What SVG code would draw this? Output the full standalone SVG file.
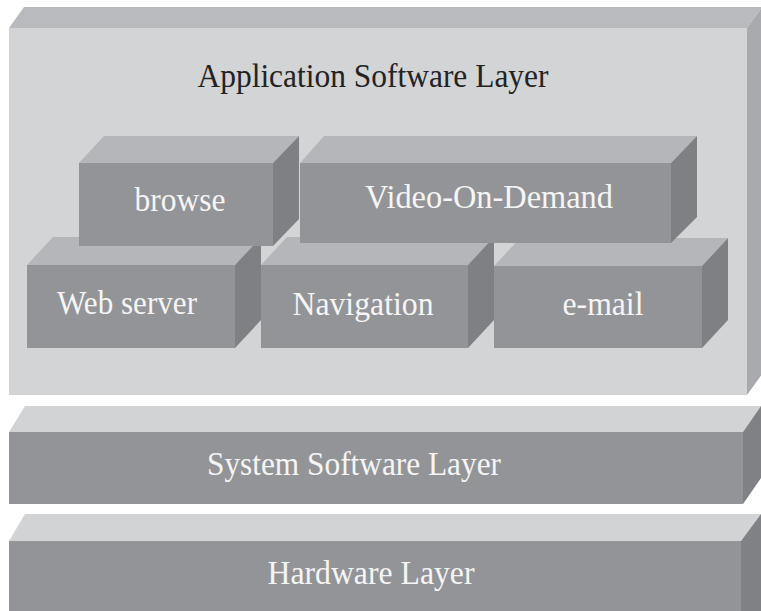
<svg xmlns="http://www.w3.org/2000/svg" width="761" height="611" viewBox="0 0 761 611">
<style>
.bigfront{fill:#d3d4d6}
.bigtop{fill:#b9babd}
.bigright{fill:#a9aaad}
.front{fill:#939498}
.top{fill:#b5b6b9}
.right{fill:#7f8084}
.ltop{fill:#d2d3d5}
.lright{fill:#808185}
text{font-family:"Liberation Serif","Times New Roman",serif;text-anchor:middle}
.lbl{fill:#f5f5f5;font-size:33px}
.title{fill:#232323;font-size:33px}
</style>
<rect width="761" height="611" fill="#ffffff"/>
<g id="application-layer">
<polygon class="bigtop" points="9,28 24,7 762,7 747,28"/>
<polygon class="bigright" points="747,28 762,7 762,374 747,395"/>
<rect class="bigfront" x="9" y="28" width="738" height="367"/>
<text class="title" x="373" y="87" textLength="351" lengthAdjust="spacingAndGlyphs">Application Software Layer</text>
</g>
<g id="web-server">
<polygon class="top" points="27,265 53,237 261,237 235,265"/>
<polygon class="right" points="235,265 261,237 261,320 235,348"/>
<rect class="front" x="27" y="265" width="208" height="83"/>
<text class="lbl" x="127" y="314" textLength="140" lengthAdjust="spacingAndGlyphs">Web server</text>
</g>
<g id="navigation">
<polygon class="top" points="261,265 287,237 494,237 468,265"/>
<polygon class="right" points="468,265 494,237 494,320 468,348"/>
<rect class="front" x="261" y="265" width="207" height="83"/>
<text class="lbl" x="363" y="315" textLength="141" lengthAdjust="spacingAndGlyphs">Navigation</text>
</g>
<g id="e-mail">
<polygon class="top" points="494,266 520,238 728,238 702,266"/>
<polygon class="right" points="702,266 728,238 728,320 702,348"/>
<rect class="front" x="494" y="266" width="208" height="82"/>
<text class="lbl" x="603" y="315" textLength="81" lengthAdjust="spacingAndGlyphs">e-mail</text>
</g>
<g id="browse">
<polygon class="top" points="79,163 104,136 299,136 273,163"/>
<polygon class="right" points="273,163 299,136 299,219 273,246"/>
<rect class="front" x="79" y="163" width="194" height="83"/>
<text class="lbl" x="180" y="211" textLength="91" lengthAdjust="spacingAndGlyphs">browse</text>
</g>
<g id="video-on-demand">
<polygon class="top" points="300,163 324,136 697,136 671,163"/>
<polygon class="right" points="671,163 697,136 697,217 671,243"/>
<rect class="front" x="300" y="163" width="371" height="80"/>
<text class="lbl" x="489" y="208" textLength="248" lengthAdjust="spacingAndGlyphs">Video-On-Demand</text>
</g>
<g id="system-software-layer">
<polygon class="ltop" points="9,432 25,406 761,406 743,432"/>
<polygon class="lright" points="743,432 761,406 761,478 743,504"/>
<rect class="front" x="9" y="432" width="734" height="72"/>
<text class="lbl" x="354" y="475" textLength="294" lengthAdjust="spacingAndGlyphs">System Software Layer</text>
</g>
<g id="hardware-layer">
<polygon class="ltop" points="9,541 25,514 761,514 741,541"/>
<polygon class="lright" points="741,541 761,514 761,611 741,611"/>
<rect class="front" x="9" y="541" width="732" height="70"/>
<text class="lbl" x="371" y="584" textLength="207" lengthAdjust="spacingAndGlyphs">Hardware Layer</text>
</g>
<g id="connectors"/>
</svg>
